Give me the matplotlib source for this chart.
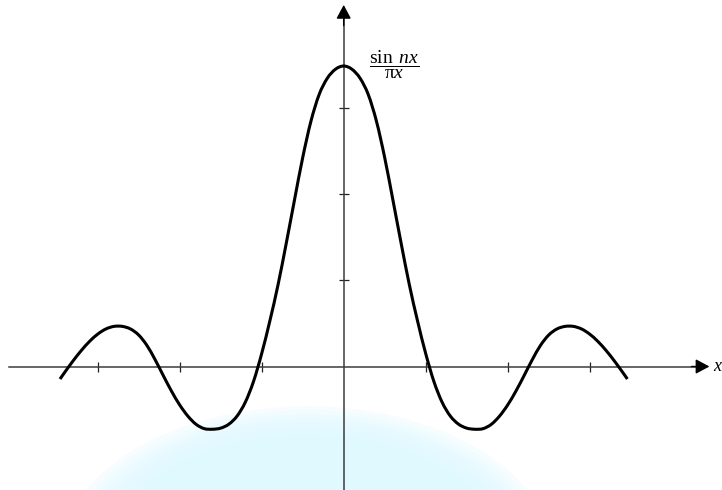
"""
sin(nx)/(pi x) sketch: a hand-read curve on two arrowed axes, with the faint
blue glow at the bottom of the original picture.
"""

import numpy as np
import matplotlib.pyplot as plt
from matplotlib.path import Path
from matplotlib.patches import PathPatch, Ellipse

# Curve (x and y in tick units), left to right
CURVE_X = [-3.459, -3.4, -3.3, -3.2, -3.1, -3.0, -2.9, -2.8, -2.7, -2.6,
           -2.5, -2.4, -2.3, -2.2, -2.1, -2.0, -1.9, -1.8, -1.7, -1.6,
           -1.5, -1.4, -1.3, -1.2, -1.1, -1.0, -0.9, -0.8, -0.7, -0.6,
           -0.5, -0.4, -0.3, -0.2, -0.1, 0.0,
           0.1, 0.2, 0.3, 0.4, 0.5, 0.6, 0.7, 0.8, 0.9, 1.0,
           1.1, 1.2, 1.3, 1.4, 1.5, 1.6, 1.7, 1.8, 1.9, 2.0,
           2.1, 2.2, 2.3, 2.4, 2.5, 2.6, 2.7, 2.8, 2.9, 3.0,
           3.1, 3.2, 3.3, 3.4, 3.459]
CURVE_Y = [-0.145, -0.065, 0.065, 0.185, 0.29, 0.375, 0.435, 0.465, 0.465, 0.435,
           0.365, 0.245, 0.08, -0.105, -0.285, -0.445, -0.575, -0.67, -0.72, -0.727,
           -0.714, -0.668, -0.574, -0.414, -0.174, 0.15, 0.53, 0.95, 1.43, 1.93,
           2.42, 2.84, 3.15, 3.34, 3.445, 3.482,
           3.445, 3.34, 3.15, 2.84, 2.42, 1.93, 1.43, 0.95, 0.53, 0.15,
           -0.174, -0.414, -0.574, -0.668, -0.714, -0.727, -0.72, -0.67, -0.575, -0.445,
           -0.285, -0.105, 0.08, 0.245, 0.365, 0.435, 0.465, 0.465, 0.435, 0.375,
           0.29, 0.185, 0.065, -0.065, -0.145]

X_TICKS = [-3, -2, -1, 1, 2, 3]
Y_TICKS = [1, 2, 3]

LABEL_FRAC = r"$\dfrac{\sin\ nx}{\mathrm{\pi} x}$"
LABEL_X = "x"

AXIS_COLOR = "#3c3c3c"
GLOW_COLOR = "#ddf9ff"


def smooth_path(xs, ys):
    """Catmull-Rom style cubic path through the read points."""
    pts = np.column_stack([xs, ys])
    verts = [pts[0]]
    codes = [Path.MOVETO]
    n = len(pts)
    for i in range(n - 1):
        p0 = pts[max(i - 1, 0)]
        p1 = pts[i]
        p2 = pts[i + 1]
        p3 = pts[min(i + 2, n - 1)]
        c1 = p1 + (p2 - p0) / 6.0
        c2 = p2 - (p3 - p1) / 6.0
        verts += [c1, c2, p2]
        codes += [Path.CURVE4] * 3
    return Path(verts, codes)


def main():
    plt.rcParams["mathtext.fontset"] = "custom"
    plt.rcParams["mathtext.rm"] = "Liberation Serif"
    plt.rcParams["mathtext.it"] = "Liberation Serif:italic"

    fig = plt.figure(figsize=(7.22, 4.9), dpi=100)
    ax = fig.add_axes([0, 0, 1, 1])
    ax.set_xlim(-4.191, 4.613)
    ax.set_ylim(-1.431, 4.247)

    # faint glow at the bottom
    for s in np.linspace(1.08, 0.88, 8):
        ax.add_patch(Ellipse((-0.45, -2.24), 5.6 * s, 3.3 * s,
                             facecolor=GLOW_COLOR, edgecolor="none",
                             alpha=0.22, zorder=0))

    # axes through the origin
    for side in ["top", "right"]:
        ax.spines[side].set_visible(False)
    ax.spines["left"].set_position(("data", 0))
    ax.spines["bottom"].set_position(("data", 0))
    ax.spines["bottom"].set_bounds(-4.08, 4.34)
    ax.spines["left"].set_bounds(-1.431, 4.08)
    for side in ["left", "bottom"]:
        ax.spines[side].set_color(AXIS_COLOR)
        ax.spines[side].set_linewidth(1.1)
        ax.spines[side].set_zorder(2)

    ax.set_xticks(X_TICKS)
    ax.set_yticks(Y_TICKS)
    ax.tick_params(direction="inout", length=7.5, width=0.9,
                   color="#222222", labelbottom=False, labelleft=False)
    ax.patch.set_alpha(0)

    arrow = dict(arrowstyle="-|>,head_length=0.6,head_width=0.32",
                 color="black", lw=1.0, mutation_scale=14,
                 shrinkA=0, shrinkB=0)
    ax.annotate("", xy=(4.46, 0), xytext=(4.24, 0), arrowprops=arrow)
    ax.annotate("", xy=(0, 4.19), xytext=(0, 3.95), arrowprops=arrow)

    # the curve
    ax.add_patch(PathPatch(smooth_path(CURVE_X, CURVE_Y), fill=False,
                           edgecolor="black", linewidth=2.2,
                           capstyle="butt", zorder=3))

    ax.text(0.61, 3.50, LABEL_FRAC, fontsize=14, ha="center", va="center")
    ax.text(4.50, 0.0, LABEL_X, fontsize=13, ha="left", va="center",
            family="Liberation Serif", style="italic")

    fig.savefig("out.png", dpi=100)
    plt.close(fig)


if __name__ == "__main__":
    main()
